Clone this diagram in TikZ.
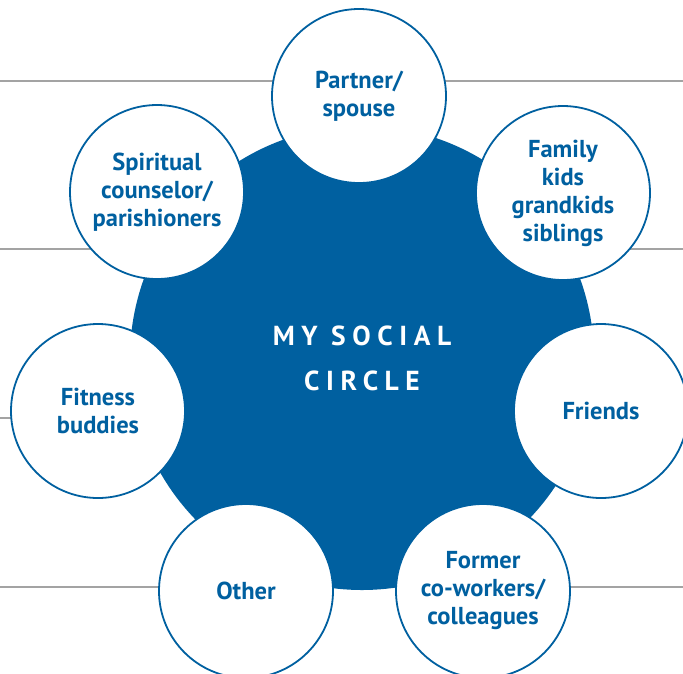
\documentclass[tikz,border=0pt]{standalone}
\usepackage{fontspec}
\setmainfont{PT Sans}
\newfontfamily\hubfont[LetterSpace=24]{PT Sans}
\usepackage[x11names, rgb]{xcolor}
\usepackage{tikz}
\usetikzlibrary{shapes,calc}

\definecolor{circleblue}{HTML}{0060A0}
\definecolor{rulegray}{HTML}{A3A3A3}

\begin{document}
\begin{tikzpicture}[x=1pt,y=-1pt]
\tikzset{
	hub node/.style = {circle, fill = circleblue, minimum size = 464, inner sep = 0,
		text = white, align = center, font = \hubfont\bfseries\fontsize{27.5}{45}\selectfont},
	ring node/.style = {circle, draw = circleblue, line width = 1.8, fill = white,
		minimum size = 174, inner sep = 0, text = circleblue, align = center,
		font = \bfseries\fontsize{24.5}{28}\selectfont},
	rule line/.style = {draw = rulegray, line width = 1.6},
}
\useasboundingbox (0,0) rectangle (683,673);

% background rules
\draw [rule line] (0,81) -- (683,81);
\draw [rule line] (0,249) -- (683,249);
\draw [rule line] (0,418) -- (683,418);
\draw [rule line] (0,587) -- (683,587);

\node(hub)[hub node] at (362,358) {MY SOCIAL\\CIRCLE};

\node(partner)[ring node] at (359,96) {Partner/\\spouse};
\node(family)[ring node] at (563,193) {Family\\kids\\grandkids\\siblings};
\node(friends)[ring node] at (601,411) {Friends};
\node(former)[ring node] at (483,591) {Former\\co-workers/\\colleagues};
\node(other)[ring node] at (246,591) {Other};
\node(fitness)[ring node] at (98,411) {Fitness\\buddies};
\node(spiritual)[ring node] at (157,192) {Spiritual\\counselor/\\parishioners};

\end{tikzpicture}
\end{document}
